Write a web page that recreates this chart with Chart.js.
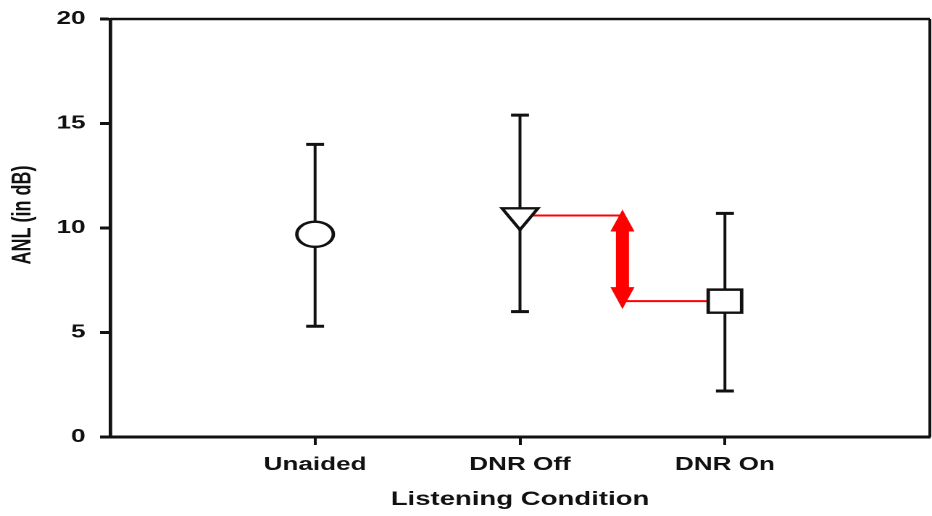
<!DOCTYPE html>
<html>
<head>
<meta charset="utf-8">
<script src="https://cdn.jsdelivr.net/npm/chart.js@4.4.1/dist/chart.umd.min.js"></script>
<style>
  html, body { margin: 0; padding: 0; background: #fff; overflow: hidden; width: 932px; height: 516px; }
  /* the figure is laid out on a narrower canvas and widened to the page */
  #stage { position: absolute; left: 0; top: 0; width: 643px; height: 516px;
           transform: scaleX(1.44946); transform-origin: 0 0; }
  #chart { display: block; }
</style>
</head>
<body>
<div id="stage"><canvas id="chart" width="643" height="516"></canvas></div>
<script>
// Mean ANL per listening condition with the upper / lower ends of each error bar (dB)
const categories = ['Unaided', 'DNR Off', 'DNR On'];
const anlMean  = [9.7, 10.6, 6.5];
const anlUpper = [14.0, 15.4, 10.7];
const anlLower = [5.3, 6.0, 2.2];
const yTickValues = [0, 5, 10, 15, 20];

const INK = '#111';
const RED = '#ff0000';
const FONT = "'Liberation Sans', Arial, sans-serif";

// condition i sits at x = i + 1 on a 0..4 axis
const catX = i => i + 1;
const offIdx = 1, onIdx = 2;
const arrowX = (catX(offIdx) + catX(onIdx)) / 2;

// vertical error bars with end caps, drawn under the markers
const errorBars = {
  id: 'errorBars',
  beforeDatasetsDraw(chart) {
    const { ctx, scales: { x, y } } = chart;
    ctx.save();
    ctx.strokeStyle = INK;
    categories.forEach((c, i) => {
      const px = x.getPixelForValue(catX(i));
      const top = y.getPixelForValue(anlUpper[i]);
      const bot = y.getPixelForValue(anlLower[i]);
      ctx.lineWidth = 2;
      ctx.beginPath(); ctx.moveTo(px, top); ctx.lineTo(px, bot); ctx.stroke();
      ctx.lineWidth = 3;
      ctx.beginPath();
      ctx.moveTo(px - 6.2, top); ctx.lineTo(px + 6.2, top);
      ctx.moveTo(px - 6.2, bot); ctx.lineTo(px + 6.2, bot);
      ctx.stroke();
    });
    ctx.restore();
  }
};

// double-headed arrow spanning the DNR Off / DNR On difference
const diffArrow = {
  id: 'diffArrow',
  afterDatasetsDraw(chart) {
    const { ctx, scales: { x, y } } = chart;
    const px = x.getPixelForValue(arrowX);
    const top = y.getPixelForValue(anlMean[offIdx]) - 6;
    const bot = y.getPixelForValue(anlMean[onIdx]) + 8;
    const head = 22, hw = 8.3, sw = 4.5;
    ctx.save();
    ctx.fillStyle = RED;
    ctx.beginPath();
    ctx.moveTo(px, top);
    ctx.lineTo(px + hw, top + head);
    ctx.lineTo(px + sw, top + head);
    ctx.lineTo(px + sw, bot - head);
    ctx.lineTo(px + hw, bot - head);
    ctx.lineTo(px, bot);
    ctx.lineTo(px - hw, bot - head);
    ctx.lineTo(px - sw, bot - head);
    ctx.lineTo(px - sw, top + head);
    ctx.lineTo(px - hw, top + head);
    ctx.closePath();
    ctx.fill();
    ctx.restore();
  }
};

// top and right edges of the plot frame, plus the y-axis caption
const frameAndCaption = {
  id: 'frameAndCaption',
  afterDraw(chart) {
    const { ctx, chartArea: a } = chart;
    ctx.save();
    ctx.strokeStyle = INK;
    ctx.lineWidth = 2.6;
    ctx.beginPath(); ctx.moveTo(a.left, a.top); ctx.lineTo(a.right, a.top); ctx.stroke();
    ctx.lineWidth = 2;
    ctx.beginPath(); ctx.moveTo(a.right, a.top); ctx.lineTo(a.right, a.bottom); ctx.stroke();
    ctx.translate(16, (a.top + a.bottom) / 2 - 13);
    ctx.rotate(-Math.PI / 2);
    ctx.fillStyle = INK;
    ctx.font = `bold 18px ${FONT}`;
    ctx.textAlign = 'center';
    ctx.textBaseline = 'middle';
    ctx.fillText('ANL (in dB)', 0, 0);
    ctx.restore();
  }
};

new Chart(document.getElementById('chart'), {
  type: 'scatter',
  data: {
    datasets: [
      {
        label: 'ANL',
        data: categories.map((c, i) => ({ x: catX(i), y: anlMean[i] })),
        pointStyle: ['circle', 'triangle', 'rect'],
        rotation: [0, 180, 0],
        pointRadius: [12.6, 14.3, 16.3],
        backgroundColor: '#fff',
        borderColor: INK,
        borderWidth: 2.4
      },
      {
        label: 'DNR Off level',
        type: 'line',
        data: [{ x: catX(offIdx), y: anlMean[offIdx] }, { x: arrowX, y: anlMean[offIdx] }],
        borderColor: RED, borderWidth: 2, pointRadius: 0, showLine: true
      },
      {
        label: 'DNR On level',
        type: 'line',
        data: [{ x: arrowX, y: anlMean[onIdx] }, { x: catX(onIdx), y: anlMean[onIdx] }],
        borderColor: RED, borderWidth: 2, pointRadius: 0, showLine: true
      }
    ]
  },
  options: {
    responsive: false,
    maintainAspectRatio: false,
    devicePixelRatio: 2,
    animation: false,
    layout: { autoPadding: false, padding: { top: 19, right: 1.5, bottom: 5, left: 0 } },
    plugins: { legend: { display: false }, tooltip: { enabled: false } },
    scales: {
      x: {
        type: 'linear', min: 0, max: 4,
        afterBuildTicks: s => { s.ticks = categories.map((c, i) => ({ value: catX(i) })); },
        afterFit: s => { s.height = 74; s.paddingLeft = 0; s.paddingRight = 0; },
        ticks: {
          callback: v => categories[v - 1] ?? '',
          color: INK, font: { family: FONT, size: 18, weight: 'bold' }, padding: 9,
          maxRotation: 0, autoSkip: false
        },
        grid: { drawOnChartArea: false, drawTicks: true, tickLength: 8, tickWidth: 2, tickColor: INK },
        border: { display: true, color: INK, width: 3 },
        title: {
          display: true, text: 'Listening Condition', color: INK,
          font: { family: FONT, size: 19, weight: 'bold' }, padding: { top: 0, bottom: 0 }
        }
      },
      y: {
        min: 0, max: 20,
        afterBuildTicks: s => { s.ticks = yTickValues.map(v => ({ value: v })); },
        afterFit: s => { s.width = 76; s.paddingTop = 0; s.paddingBottom = 0; },
        ticks: { color: INK, font: { family: FONT, size: 18, weight: 'bold' }, padding: 10 },
        grid: { drawOnChartArea: false, drawTicks: true, tickLength: 7, tickWidth: 3, tickColor: INK },
        border: { display: true, color: INK, width: 2.4 }
      }
    }
  },
  plugins: [errorBars, diffArrow, frameAndCaption]
});
</script>
</body>
</html>
